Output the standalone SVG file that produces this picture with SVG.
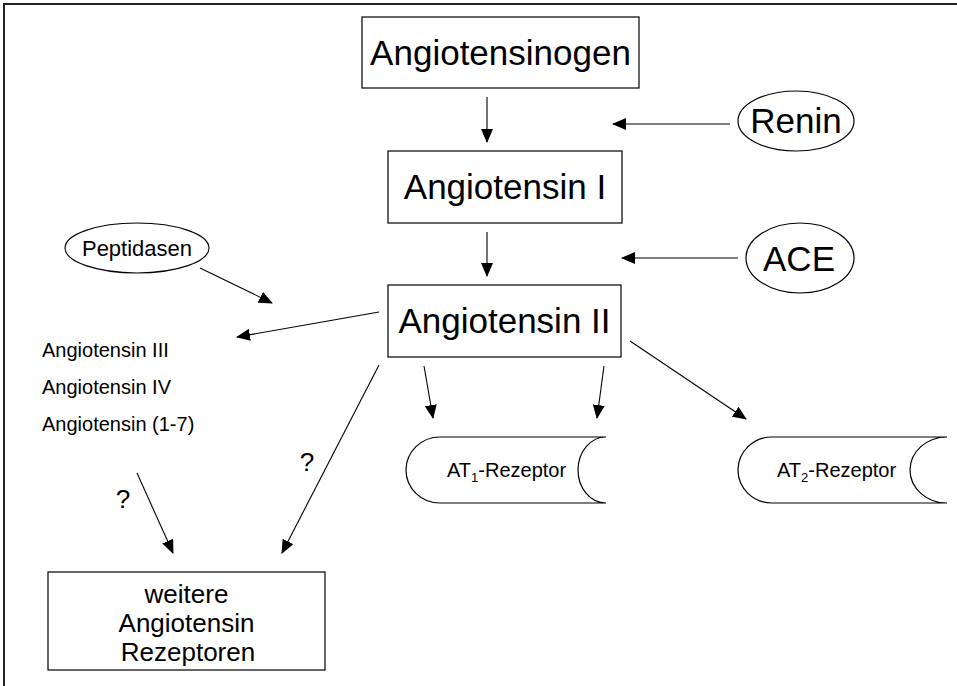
<svg xmlns="http://www.w3.org/2000/svg" width="957" height="686" viewBox="0 0 957 686">
<style>
  text { font-family: "Liberation Sans", Arial, sans-serif; fill: #000; }
  .box { fill: #fff; stroke: #000; stroke-width: 1.2; }
  .shape { fill: none; stroke: #000; stroke-width: 1.2; }
  .big { font-size: 35px; }
  .mid { font-size: 22px; }
  .small { font-size: 20px; }
  .lg { font-size: 26px; }
  .conn line { stroke: #000; stroke-width: 1.1; marker-end: url(#ah); }
</style>
<defs>
  <marker id="ah" markerUnits="userSpaceOnUse" markerWidth="14" markerHeight="12" viewBox="0 0 14 12" refX="13" refY="6" orient="auto">
    <path d="M0,0 L14,6 L0,12 Z" fill="#000"/>
  </marker>
</defs>
<rect width="957" height="686" fill="#fff"/>
<path d="M4,686 V4 H957" fill="none" stroke="#222" stroke-width="2"/>

<g id="angiotensinogen">
  <rect class="box" x="362" y="17" width="277" height="71"/>
  <text class="big" x="500.5" y="65" text-anchor="middle">Angiotensinogen</text>
</g>
<g id="angiotensin1">
  <rect class="box" x="388" y="151" width="234" height="72"/>
  <text class="big" x="505" y="199" text-anchor="middle">Angiotensin I</text>
</g>
<g id="angiotensin2">
  <rect class="box" x="388" y="285" width="233" height="72"/>
  <text class="big" x="504.5" y="333" text-anchor="middle">Angiotensin II</text>
</g>
<g id="renin">
  <ellipse class="shape" cx="796" cy="121" rx="58" ry="30"/>
  <text class="big" x="796" y="133" text-anchor="middle">Renin</text>
</g>
<g id="ace">
  <ellipse class="shape" cx="800" cy="258" rx="54" ry="35"/>
  <text class="big" x="799" y="271" text-anchor="middle">ACE</text>
</g>
<g id="peptidasen">
  <ellipse class="shape" cx="137" cy="248" rx="72" ry="25"/>
  <text class="mid" x="137" y="256" text-anchor="middle">Peptidasen</text>
</g>
<g id="metabolites">
  <text class="small" x="42" y="357">Angiotensin III</text>
  <text class="small" x="42" y="394">Angiotensin IV</text>
  <text class="small" x="42" y="431">Angiotensin (1-7)</text>
</g>
<g id="at1">
  <path class="shape" d="M440,437 H606 M440,503 H606 M440,437 A34,33 0 0 0 440,503 M606,437 A28,33 0 0 0 606,503"/>
  <text class="small" x="447" y="477">AT<tspan font-size="13" dy="5">1</tspan><tspan dy="-5">-Rezeptor</tspan></text>
</g>
<g id="at2">
  <path class="shape" d="M772,437 H947 M772,503 H947 M772,437 A34,33 0 0 0 772,503 M947,437 A37,33 0 0 0 947,503"/>
  <text class="small" x="777" y="477">AT<tspan font-size="13" dy="5">2</tspan><tspan dy="-5">-Rezeptor</tspan></text>
</g>
<g id="weitere">
  <rect class="box" x="48" y="572" width="277" height="98"/>
  <text class="lg" x="186.5" y="603" text-anchor="middle">weitere</text>
  <text class="lg" x="186.5" y="632" text-anchor="middle">Angiotensin</text>
  <text class="lg" x="188" y="661" text-anchor="middle">Rezeptoren</text>
</g>
<g id="labels">
  <text class="lg" x="307" y="471" text-anchor="middle">?</text>
  <text class="lg" x="123" y="508" text-anchor="middle">?</text>
</g>

<g id="connectors" class="conn">
  <line x1="487" y1="97" x2="487" y2="142"/>
  <line x1="730" y1="124" x2="613" y2="124"/>
  <line x1="487" y1="232" x2="487" y2="276"/>
  <line x1="738" y1="258" x2="622" y2="258"/>
  <line x1="200" y1="268" x2="272" y2="303"/>
  <line x1="379" y1="312" x2="237" y2="337"/>
  <line x1="424" y1="366" x2="433" y2="418"/>
  <line x1="604" y1="366" x2="597" y2="418"/>
  <line x1="630" y1="341" x2="746" y2="419"/>
  <line x1="379" y1="365" x2="282" y2="553"/>
  <line x1="137" y1="473" x2="173" y2="553"/>
</g>
</svg>
